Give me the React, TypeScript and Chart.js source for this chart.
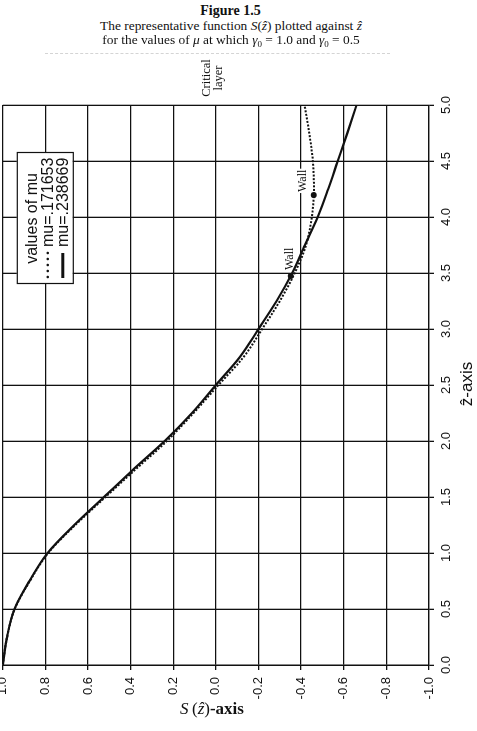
import React, { useEffect, useRef } from 'react';
import { Chart, registerables } from 'chart.js';

Chart.register(...registerables);

// z-hat values (horizontal axis of the original, un-rotated chart)
const zValues = [0, 0.25, 0.5, 0.75, 1.0, 1.25, 1.5, 1.75, 2.0, 2.25, 2.5, 2.75, 3.0, 3.25, 3.5, 3.75, 4.0, 4.25, 4.5, 4.75, 5.0];
// S(z) for mu = .238669 (solid)
const sSolid = [1.0, 0.98, 0.945, 0.875, 0.79, 0.665, 0.525, 0.385, 0.24, 0.112, 0.0, -0.113, -0.2, -0.285, -0.358, -0.418, -0.478, -0.527, -0.572, -0.617, -0.66];
// S(z) for mu = .171653 (dotted)
const sDotted = [1.0, 0.98, 0.944, 0.873, 0.787, 0.66, 0.518, 0.375, 0.23, 0.105, -0.012, -0.13, -0.217, -0.3, -0.37, -0.423, -0.45, -0.46, -0.455, -0.438, -0.416];
// "Wall" markers
const wallZ = [3.473, 4.196];
const wallS = [-0.351, -0.459];
const wallLabels = ['Wall', 'Wall'];
const legendTitle = 'values of mu';
const seriesNames = ['mu=.171653', 'mu=.238669'];
const zTicks = { min: 0, max: 5, step: 0.5 };
const sTicks = { min: -1, max: 1, step: 0.2 };

// canvas (un-rotated) geometry
const W = 691;
const H = 489;
const X0 = -12;
const Y0 = 40;

const fmt = (v: number) => {
  const n = Math.abs(v) < 1e-9 ? 0 : v;
  return n.toFixed(1);
};

const INK = '#111';

const overlay = {
  id: 'overlay',
  afterDatasetsDraw(chart: any) {
    const { ctx, chartArea: ca, scales } = chart;
    const x = scales.x;
    const y = scales.y;
    ctx.save();
    ctx.fillStyle = INK;

    // Wall labels
    ctx.font = '12px "Liberation Serif", serif';
    const p1x = x.getPixelForValue(wallZ[0]);
    const p1y = y.getPixelForValue(wallS[0]);
    ctx.textAlign = 'left';
    ctx.textBaseline = 'middle';
    ctx.fillText(wallLabels[0], p1x + 6, p1y - 1);

    const p2x = x.getPixelForValue(wallZ[1]);
    const p2y = y.getPixelForValue(wallS[1]);
    const tw = ctx.measureText(wallLabels[1]).width;
    ctx.fillStyle = '#fff';
    ctx.fillRect(p2x + 2, p2y - 18, tw + 2, 12);
    ctx.fillStyle = INK;
    ctx.textBaseline = 'alphabetic';
    ctx.fillText(wallLabels[1], p2x + 3, p2y - 8);

    // Critical layer
    ctx.font = '12.5px "Liberation Serif", serif';
    ctx.textAlign = 'center';
    const v0 = y.getPixelForValue(0);
    const cu = ca.right + 27;
    ctx.fillText('Critical', cu, v0 - 6);
    ctx.fillText('layer', cu, v0 + 6);

    // z-axis title
    ctx.font = '17px "Liberation Sans", Arial, sans-serif';
    ctx.textAlign = 'center';
    ctx.textBaseline = 'alphabetic';
    ctx.fillText('\u1E91-axis', (ca.left + ca.right) / 2 + 1, 484);

    // Legend
    const lx = ca.right - 179;
    const ly = ca.top + 14;
    const lw = 131;
    const lh = 56;
    ctx.fillStyle = '#fff';
    ctx.fillRect(lx, ly, lw, lh);
    ctx.strokeStyle = INK;
    ctx.lineWidth = 1.2;
    ctx.strokeRect(lx + 0.5, ly + 0.5, lw, lh);
    ctx.fillStyle = INK;
    ctx.font = '16px "Liberation Sans", Arial, sans-serif';
    ctx.textAlign = 'center';
    ctx.fillText(legendTitle, lx + lw / 2, ly + 20);
    ctx.textAlign = 'left';
    ctx.fillText(seriesNames[0], lx + 37, ly + 36);
    ctx.fillText(seriesNames[1], lx + 37, ly + 51);
    for (let i = 0; i < 5; i++) {
      ctx.beginPath();
      ctx.arc(lx + 7 + i * 6, ly + 31, 1.3, 0, Math.PI * 2);
      ctx.fill();
    }
    ctx.beginPath();
    ctx.lineWidth = 3;
    ctx.moveTo(lx + 6, ly + 46);
    ctx.lineTo(lx + 31, ly + 46);
    ctx.stroke();
    ctx.restore();
  },
};

export default function App() {
  const ref = useRef<HTMLCanvasElement>(null);

  useEffect(() => {
    const canvas = ref.current;
    if (!canvas) return;
    const tickFont = { family: '"Liberation Sans", Arial, sans-serif', size: 13 };
    const grid = { color: INK, lineWidth: 1.3, tickLength: 5, tickColor: INK, drawTicks: true };
    const border = { display: true, color: INK, width: 1.3 };
    const chart = new Chart(canvas, {
      type: 'scatter',
      data: {
        datasets: [
          {
            label: seriesNames[0],
            data: zValues.map((z, i) => ({ x: z, y: sDotted[i] })),
            showLine: true,
            borderColor: INK,
            borderWidth: 2,
            borderDash: [2, 1.6],
            pointRadius: 0,
            cubicInterpolationMode: 'monotone',
          },
          {
            label: seriesNames[1],
            data: zValues.map((z, i) => ({ x: z, y: sSolid[i] })),
            showLine: true,
            borderColor: INK,
            borderWidth: 2.2,
            pointRadius: 0,
            cubicInterpolationMode: 'monotone',
          },
          {
            label: 'walls',
            data: wallZ.map((z, i) => ({ x: z, y: wallS[i] })),
            showLine: false,
            pointRadius: 3,
            pointBackgroundColor: INK,
            pointBorderColor: INK,
            pointBorderWidth: 0,
          },
        ],
      } as any,
      options: {
        animation: false,
        responsive: false,
        maintainAspectRatio: false,
        events: [],
        layout: { padding: { left: 0, top: 13, right: 65, bottom: 0 } },
        plugins: { legend: { display: false }, tooltip: { enabled: false } },
        scales: {
          x: {
            type: 'linear',
            min: zTicks.min,
            max: zTicks.max,
            afterFit: (s: any) => {
              s.height = 48;
            },
            ticks: {
              stepSize: zTicks.step,
              callback: (v: any) => fmt(Number(v)),
              font: tickFont,
              color: INK,
              padding: 5,
              maxRotation: 0,
              minRotation: 0,
              autoSkip: false,
            },
            grid,
            border,
          },
          y: {
            type: 'linear',
            min: sTicks.min,
            max: sTicks.max,
            afterFit: (s: any) => {
              s.width = 66;
            },
            ticks: {
              stepSize: sTicks.step,
              callback: (v: any) => fmt(Number(v)),
              font: tickFont,
              color: INK,
              padding: 7,
              autoSkip: false,
            },
            grid,
            border,
          },
        },
      } as any,
      plugins: [overlay],
    });
    return () => chart.destroy();
  }, []);

  const serif = '"Liberation Serif", "Times New Roman", serif';
  const sub = { fontSize: 9, position: 'relative' as const, top: 3 };

  return (
    <div style={{ position: 'fixed', left: 0, top: 0, width: 477, height: 731, overflow: 'hidden', background: '#fff', color: INK }}>
      <div
        style={{
          position: 'absolute',
          left: X0 + H / 2 - W / 2,
          top: Y0 + W / 2 - H / 2,
          width: W,
          height: H,
          transform: 'rotate(-90deg)',
        }}
      >
        <canvas ref={ref} width={W} height={H} style={{ width: W, height: H, display: 'block' }} />
      </div>
      <div style={{ position: 'absolute', left: 0, width: 461, top: 4, textAlign: 'center', fontFamily: serif, fontWeight: 'bold', fontSize: 14, lineHeight: '14px', whiteSpace: 'nowrap' }}>
        Figure 1.5
      </div>
      <div style={{ position: 'absolute', left: 0, width: 462, top: 17.5, textAlign: 'center', fontFamily: serif, fontSize: 13.4, lineHeight: '15px', whiteSpace: 'nowrap' }}>
        The representative function <i>S</i>(<i>ẑ</i>) plotted against <i>ẑ</i>
      </div>
      <div style={{ position: 'absolute', left: 0, width: 462, top: 32, textAlign: 'center', fontFamily: serif, fontSize: 13.4, lineHeight: '15px', whiteSpace: 'nowrap' }}>
        for the values of <i>μ</i> at which <i>γ</i><span style={sub}>0</span> = 1.0 and <i>γ</i><span style={sub}>0</span> = 0.5
      </div>
      <div style={{ position: 'absolute', left: 45, width: 345, top: 53, borderTop: '1px dashed #d4d4d4' }} />
      <div style={{ position: 'absolute', left: 112, width: 200, top: 700, textAlign: 'center', fontFamily: serif, fontSize: 17, lineHeight: '18px', whiteSpace: 'nowrap' }}>
        <i>S</i>&#8201;(<i>ẑ</i>)<b>-axis</b>
      </div>
    </div>
  );
}
